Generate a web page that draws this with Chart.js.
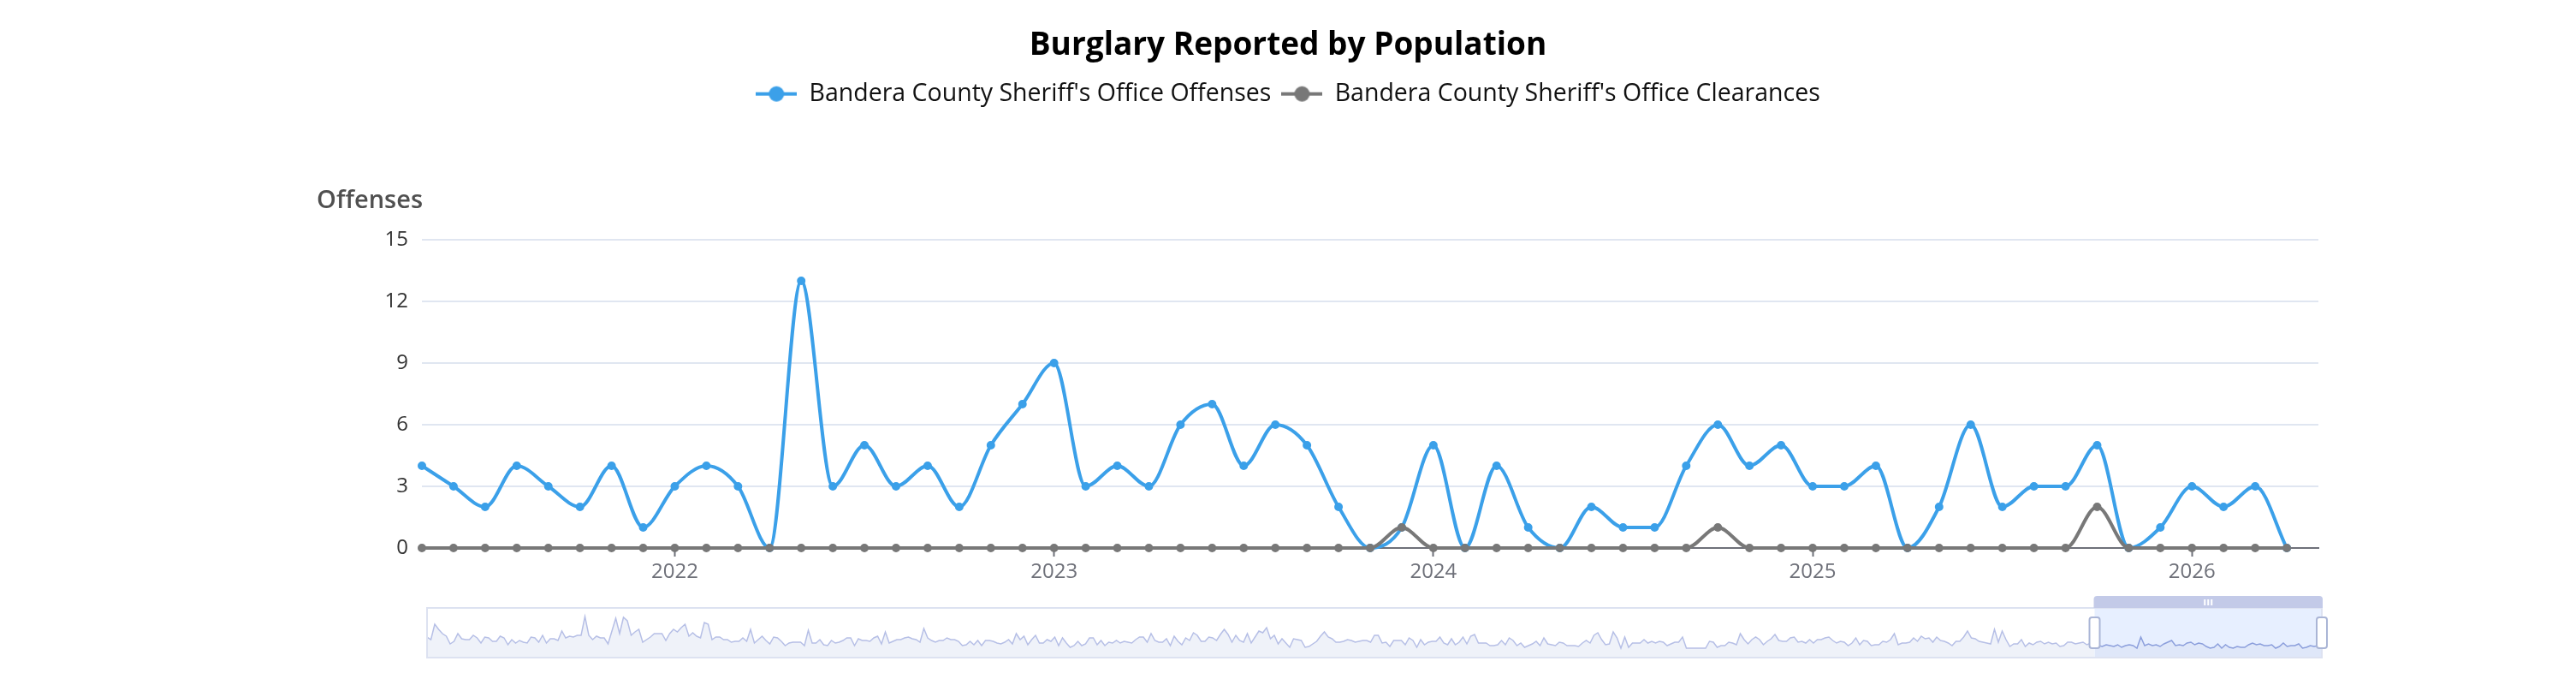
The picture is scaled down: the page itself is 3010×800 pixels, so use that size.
<!DOCTYPE html>
<html>
<head>
<meta charset="utf-8">
<script src="https://cdn.jsdelivr.net/npm/chart.js@4.4.1/dist/chart.umd.min.js"></script>
<style>
  html, body { margin: 0; padding: 0; background: #fff; }
  #wrap { position: relative; width: 3010px; height: 800px; }
  #main { position: absolute; left: 0; top: 0; }
  #nav { position: absolute; left: 480px; top: 690px; }
</style>
</head>
<body>
<div id="wrap">
  <canvas id="main" width="3010" height="800"></canvas>
  <canvas id="nav" width="2260" height="100"></canvas>
</div>
<script>
// monthly categories shown in the main window
const months = [
  '2021-05','2021-06','2021-07','2021-08','2021-09','2021-10','2021-11','2021-12',
  '2022-01','2022-02','2022-03','2022-04','2022-05','2022-06','2022-07','2022-08','2022-09','2022-10','2022-11','2022-12',
  '2023-01','2023-02','2023-03','2023-04','2023-05','2023-06','2023-07','2023-08','2023-09','2023-10','2023-11','2023-12',
  '2024-01','2024-02','2024-03','2024-04','2024-05','2024-06','2024-07','2024-08','2024-09','2024-10','2024-11','2024-12',
  '2025-01','2025-02','2025-03','2025-04','2025-05','2025-06','2025-07','2025-08','2025-09','2025-10','2025-11','2025-12',
  '2026-01','2026-02','2026-03','2026-04'
];
const offenses = [
  4,3,2,4,3,2,4,1,
  3,4,3,0,13,3,5,3,4,2,5,7,
  9,3,4,3,6,7,4,6,5,2,0,1,
  5,0,4,1,0,2,1,1,4,6,4,5,
  3,3,4,0,2,6,2,3,3,5,0,1,
  3,2,3,0
];
const clearances = [
  0,0,0,0,0,0,0,0,
  0,0,0,0,0,0,0,0,0,0,0,0,
  0,0,0,0,0,0,0,0,0,0,0,1,
  0,0,0,0,0,0,0,0,0,1,0,0,
  0,0,0,0,0,0,0,0,0,2,0,0,
  0,0,0,0
];
const yTicks = [0, 3, 6, 9, 12, 15];
// older offense counts shown only in the slider overview
const navHistory = [
  13,10,28,22,17,14,5,8,17,11,10,10,15,12,6,13,12,8,8,14,12,4,10,6,9,7,6,13,12,7,15,6,11,11,9,20,12,14,13,15,
  15,37,15,10,14,12,12,5,20,35,17,36,32,15,19,22,7,10,13,17,17,17,9,17,22,19,24,28,14,18,14,12,30,28,10,13,13,10,10,7,
  8,8,12,8,22,6,10,14,9,5,13,12,8,3,6,7,7,7,3,21,6,6,10,4,3,9,6,7,9,12,12,3,11,9,9,8,12,14,5,19,
  6,8,10,10,12,13,11,10,7,23,12,9,7,9,9,12,10,10,8,3,4,8,4,9,3,9,9,8,6,5,7,10,5,17,10,14,4,10,15,6,
  6,10,8,13,3,12,6,
  1,3,8,3,5,12,12,4,9,3,7,6,9,6,8,7,6,10,13,13,7,17,9,7,7,11,3,14,8,4,12,9,18,15,8,8,13,12,9,16,
  22,16,7,15,9,7,17,6,13,20,18,24,11,15,5,11,6,1,11,10,9,1,2,5,8,14,19,13,11,7,7,8,10,9,7,8,9,9,7,15,
  15,6,7,2,9,9,9,4,12,9,1,10,4,7,8,8,13,6,4,11,4,7,13,5,14,16,6,6,6,3,3,4,9,4,12,9,3,6,1,3,
  5,8,3,12,5,4,3,7,6,3,3,3,2,6,9,6,15,18,10,4,5,19,12,0,13,1,6,6,6,10,6,8,6,8,7,3,5,7,7,13,
  0,0,0,0,0,0,8,7,
  1,3,3,7,6,4,17,10,5,10,13,10,4,8,11,16,9,8,8,12,13,7,8,6,10,6,10,10,12,13,9,6,8,7,3,6,12,4,9,8,
  3,4,4,8,7,10,17,4,6,6,7,12,8,14,11,12,7,13,9,8,6,3,8,8,13,20,12,11,8,7,6,5,22,7,20,10,2,5,5,10,
  2,6,4,7,8,5,7,5,6,2,3,7,7,5,6,7,4,6
];

const BLUE = '#3ba0e9';
const GREY = '#787878';

Chart.defaults.font.family = '"Open Sans", sans-serif';

const yearStarts = months.map((m, i) => m.endsWith('-01') ? i : -1).filter(i => i >= 0);

function legendIcon(color) {
  const c = document.createElement('canvas');
  c.width = 48; c.height = 22;
  const g = c.getContext('2d');
  g.strokeStyle = color; g.lineWidth = 4;
  g.beginPath(); g.moveTo(0, 11); g.lineTo(48, 11); g.stroke();
  g.fillStyle = color;
  g.beginPath(); g.arc(24, 11, 9, 0, Math.PI * 2); g.fill();
  return c;
}
const icons = [legendIcon(BLUE), legendIcon(GREY)];

// push the plot down below the legend
const legendGap = {
  id: 'legendGap',
  beforeInit(chart) {
    const fit = chart.legend.fit;
    chart.legend.fit = function () { fit.call(this); this.height = 196.6; };
  }
};

// horizontal axis name above the y axis
const axisName = {
  id: 'axisName',
  afterDraw(chart) {
    const { ctx, chartArea } = chart;
    ctx.save();
    ctx.font = '600 29px "Open Sans"';
    ctx.fillStyle = '#505050';
    ctx.textAlign = 'right';
    ctx.textBaseline = 'middle';
    ctx.fillText('Offenses', chartArea.left + 1, chartArea.top - 45);
    ctx.restore();
  }
};

new Chart(document.getElementById('main'), {
  type: 'line',
  data: {
    datasets: [
      {
        label: "Bandera County Sheriff's Office Offenses",
        data: offenses.map((v, i) => ({ x: i, y: v })),
        borderColor: BLUE,
        backgroundColor: BLUE,
        borderWidth: 4,
        pointRadius: 4,
        pointBorderWidth: 2,
        cubicInterpolationMode: 'monotone',
        clip: false,
        order: 1
      },
      {
        label: "Bandera County Sheriff's Office Clearances",
        data: clearances.map((v, i) => ({ x: i, y: v })),
        borderColor: GREY,
        backgroundColor: GREY,
        borderWidth: 4,
        pointRadius: 4,
        pointBorderWidth: 2,
        cubicInterpolationMode: 'monotone',
        clip: false,
        order: 0
      }
    ]
  },
  options: {
    responsive: false,
    devicePixelRatio: 1,
    animation: false,
    layout: { padding: { left: 301, right: 301, top: 0, bottom: 110 } },
    plugins: {
      title: {
        display: true,
        text: 'Burglary Reported by Population',
        color: '#000',
        font: { size: 37, weight: 'bold' },
        padding: { top: 31, bottom: 8 }
      },
      legend: {
        labels: {
          usePointStyle: true,
          pointStyleWidth: 48,
          padding: 12,
          color: '#111',
          font: { size: 28.5 },
          sort: (a, b) => a.datasetIndex - b.datasetIndex,
          generateLabels(chart) {
            const items = Chart.defaults.plugins.legend.labels.generateLabels(chart);
            items.forEach(it => { it.pointStyle = icons[it.datasetIndex]; });
            return items;
          }
        }
      },
      tooltip: { enabled: false }
    },
    scales: {
      x: {
        type: 'linear',
        min: 0,
        max: 60,
        afterBuildTicks(s) { s.ticks = yearStarts.map(i => ({ value: i })); },
        afterFit(s) { s.height = 50; },
        ticks: {
          callback: v => months[v] ? months[v].slice(0, 4) : '',
          color: '#6e7079',
          font: { size: 24 },
          padding: 4,
          autoSkip: false,
          maxRotation: 0
        },
        grid: { drawOnChartArea: false, tickLength: 10, tickColor: '#6e7079', tickWidth: 2 },
        border: { color: '#6e7079', width: 2 }
      },
      y: {
        min: 0,
        max: 15,
        afterFit(s) { s.width = 192; },
        afterBuildTicks(s) { s.ticks = yTicks.map(v => ({ value: v })); },
        ticks: { color: '#333', font: { size: 24 }, padding: 16 },
        grid: { color: '#e0e6f1', lineWidth: 2, drawTicks: false },
        border: { display: false }
      }
    }
  },
  plugins: [legendGap, axisName]
});

// slider overview below the chart
const navData = navHistory.concat(offenses);
const histLen = navHistory.length;

function rrect(ctx, x, y, w, h, r) {
  ctx.beginPath();
  if (ctx.roundRect) ctx.roundRect(x, y, w, h, r); else ctx.rect(x, y, w, h);
}

const navFrame = {
  id: 'navFrame',
  beforeDatasetsDraw(chart) {
    const { ctx, chartArea: a, scales } = chart;
    const wx = scales.x.getPixelForValue(histLen);
    ctx.save();
    ctx.fillStyle = 'rgba(135,175,255,0.2)';
    ctx.fillRect(wx, a.top, a.right - wx, a.bottom - a.top);
    ctx.restore();
  },
  afterDraw(chart) {
    const { ctx, chartArea: a, scales } = chart;
    const wx = scales.x.getPixelForValue(histLen);
    ctx.save();
    ctx.strokeStyle = '#dde2f1';
    ctx.lineWidth = 2;
    ctx.strokeRect(a.left, a.top, a.right - a.left, a.bottom - a.top);
    // move bar
    ctx.fillStyle = '#c3cae8';
    rrect(ctx, wx - 1, a.top - 14, a.right - wx + 2, 14, [4, 4, 0, 0]);
    ctx.fill();
    ctx.fillStyle = '#fff';
    const mid = (wx + a.right) / 2;
    [-4, 0, 4].forEach(d => ctx.fillRect(mid + d - 1, a.top - 10, 2, 7));
    // side handles
    ctx.lineWidth = 2;
    ctx.strokeStyle = '#aab5d6';
    [wx, a.right].forEach(x => {
      rrect(ctx, x - 6, a.top + 11, 12, a.bottom - a.top - 22, 3);
      ctx.fillStyle = '#fff';
      ctx.fill();
      ctx.stroke();
    });
    ctx.restore();
  }
};

new Chart(document.getElementById('nav'), {
  type: 'line',
  data: {
    datasets: [{
      data: navData.map((v, i) => ({ x: i, y: v })),
      borderColor: '#b6bfe6',
      borderWidth: 1.5,
      pointRadius: 0,
      fill: 'start',
      backgroundColor: 'rgba(210,219,238,0.35)',
      tension: 0,
      segment: { borderColor: c => c.p0DataIndex >= histLen ? '#8c9fdc' : undefined }
    }]
  },
  options: {
    responsive: false,
    devicePixelRatio: 1,
    animation: false,
    layout: { padding: { left: 19, right: 27, top: 20, bottom: 22 } },
    plugins: { legend: { display: false }, title: { display: false }, tooltip: { enabled: false } },
    scales: {
      x: { type: 'linear', display: false, min: 0, max: navData.length - 1 },
      y: { display: false, min: -11, max: 47 }
    }
  },
  plugins: [navFrame]
});
</script>
</body>
</html>
